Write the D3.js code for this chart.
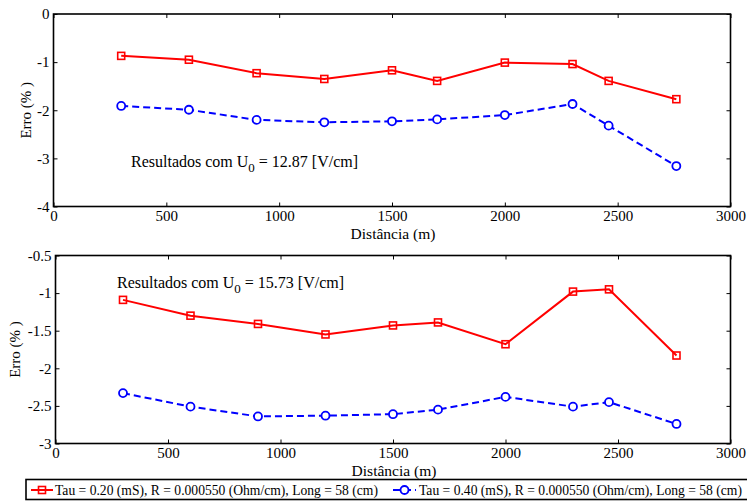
<!DOCTYPE html>
<html>
<head>
<meta charset="utf-8">
<script src="https://cdn.jsdelivr.net/npm/d3@7/dist/d3.min.js"></script>
<style>
  html, body { margin: 0; padding: 0; background: #fff; }
  svg text { font-family: "Liberation Serif", "Times New Roman", "DejaVu Serif", serif; }
</style>
</head>
<body>
<svg id="chart" width="747" height="502"></svg>
<script>
// Distances (m) at which the error was evaluated
const distances = [300, 600, 900, 1200, 1500, 1700, 2000, 2300, 2460, 2760];

// Panel 1: U0 = 12.87 V/cm
const errTau020_a = [-0.87, -0.95, -1.23, -1.35, -1.17, -1.39, -1.01, -1.04, -1.39, -1.77];
const errTau040_a = [-1.91, -1.99, -2.20, -2.25, -2.23, -2.19, -2.10, -1.87, -2.32, -3.16];

// Panel 2: U0 = 15.73 V/cm
const errTau020_b = [-1.09, -1.30, -1.41, -1.55, -1.43, -1.39, -1.68, -0.98, -0.95, -1.83];
const errTau040_b = [-2.33, -2.51, -2.64, -2.63, -2.61, -2.55, -2.38, -2.51, -2.45, -2.74];

const xTicks = [0, 500, 1000, 1500, 2000, 2500, 3000];
const yTicksA = [0, -1, -2, -3, -4];
const yTicksB = [-0.5, -1, -1.5, -2, -2.5, -3];

const seriesNames = [
  "Tau = 0.20 (mS), R = 0.000550 (Ohm/cm), Long = 58 (cm)",
  "Tau = 0.40 (mS), R = 0.000550 (Ohm/cm), Long = 58 (cm)"
];
const seriesColors = ["#ff0000", "#0000ff"];
const SERIF = "'Liberation Serif', 'Times New Roman', serif";

const svg = d3.select("#chart");

function drawPanel(cfg) {
  const x = d3.scaleLinear().domain([0, 3000]).range([cfg.left, cfg.right]);
  const y = d3.scaleLinear().domain(cfg.yDomain).range([cfg.bottom, cfg.top]);
  const g = svg.append("g");

  // frame ticks (inward, on all four sides)
  const tickLen = 4;
  g.append("g").attr("transform", `translate(0,${cfg.bottom})`)
    .call(d3.axisBottom(x).tickValues(xTicks).tickSize(-tickLen).tickPadding(4).tickFormat(d3.format("d")))
    .call(a => a.select(".domain").remove());
  g.append("g").attr("transform", `translate(0,${cfg.top})`)
    .call(d3.axisTop(x).tickValues(xTicks).tickSize(-tickLen).tickFormat(""))
    .call(a => a.select(".domain").remove());
  g.append("g").attr("transform", `translate(${cfg.left},0)`)
    .call(d3.axisLeft(y).tickValues(cfg.yTicks).tickSize(-tickLen).tickPadding(4).tickFormat(d => String(d)))
    .call(a => a.select(".domain").remove());
  g.append("g").attr("transform", `translate(${cfg.right},0)`)
    .call(d3.axisRight(y).tickValues(cfg.yTicks).tickSize(-tickLen).tickFormat(""))
    .call(a => a.select(".domain").remove());

  g.selectAll("g").attr("font-family", SERIF).attr("font-size", 15);
  g.selectAll(".tick line").attr("stroke", "#000").attr("stroke-width", 1);
  g.selectAll(".tick text").attr("fill", "#000");

  // box
  g.append("rect")
    .attr("x", cfg.left).attr("y", cfg.top)
    .attr("width", cfg.right - cfg.left).attr("height", cfg.bottom - cfg.top)
    .attr("fill", "none").attr("stroke", "#000").attr("stroke-width", 1.6);

  // axis titles
  g.append("text")
    .attr("x", (cfg.left + cfg.right) / 2 + 1).attr("y", cfg.bottom + 32)
    .attr("text-anchor", "middle").attr("font-size", 15.5)
    .text("Distância (m)");
  g.append("text")
    .attr("transform", `translate(${cfg.yLabelX},${(cfg.top + cfg.bottom) / 2}) rotate(-90)`)
    .attr("text-anchor", "middle").attr("font-size", 15)
    .text("Erro (% )");

  // annotation
  const ann = g.append("text")
    .attr("x", cfg.annX).attr("y", cfg.annY).attr("font-size", 16);
  ann.append("tspan").text("Resultados com U");
  ann.append("tspan").attr("dy", 5).attr("font-size", 13).text("0");
  ann.append("tspan").attr("dy", -5).text(" = " + cfg.u0 + " [V/cm]");

  const line = d3.line().x((d, i) => x(distances[i])).y(d => y(d));

  // red solid with squares
  g.append("path").datum(cfg.red)
    .attr("d", line).attr("fill", "none")
    .attr("stroke", seriesColors[0]).attr("stroke-width", 2);
  g.selectAll(".sq").data(cfg.red).enter().append("rect")
    .attr("x", (d, i) => x(distances[i]) - 3.5).attr("y", d => y(d) - 3.5)
    .attr("width", 7).attr("height", 7)
    .attr("fill", "none").attr("stroke", seriesColors[0]).attr("stroke-width", 1.6);

  // blue dashed with circles
  g.append("path").datum(cfg.blue)
    .attr("d", line).attr("fill", "none")
    .attr("stroke", seriesColors[1]).attr("stroke-width", 2)
    .attr("stroke-dasharray", "7,4");
  g.selectAll(".ci").data(cfg.blue).enter().append("circle")
    .attr("cx", (d, i) => x(distances[i])).attr("cy", d => y(d))
    .attr("r", 4)
    .attr("fill", "#fff").attr("stroke", seriesColors[1]).attr("stroke-width", 1.8);
}

drawPanel({
  left: 53.5, right: 730.5, top: 14, bottom: 206.5,
  yDomain: [-4, 0], yTicks: yTicksA,
  red: errTau020_a, blue: errTau040_a,
  u0: "12.87", annX: 131, annY: 167, yLabelX: 31
});

drawPanel({
  left: 55.5, right: 730.5, top: 255.5, bottom: 443.5,
  yDomain: [-3, -0.5], yTicks: yTicksB,
  red: errTau020_b, blue: errTau040_b,
  u0: "15.73", annX: 117, annY: 288, yLabelX: 20
});

// legend
const leg = svg.append("g");
leg.append("rect")
  .attr("x", 26).attr("y", 479.5).attr("width", 724).attr("height", 20)
  .attr("fill", "#fff").attr("stroke", "#000").attr("stroke-width", 1.6);

const legItems = [
  { x0: 31, x1: 53, tx: 55, marker: "square" },
  { x0: 393, x1: 416, tx: 419, marker: "circle" }
];
legItems.forEach((it, k) => {
  const cy = 490;
  leg.append("line").attr("x1", it.x0).attr("x2", it.x1).attr("y1", cy).attr("y2", cy)
    .attr("stroke", seriesColors[k]).attr("stroke-width", 2)
    .attr("stroke-dasharray", k === 1 ? "7,4" : null);
  const mx = (it.x0 + it.x1) / 2;
  if (it.marker === "square") {
    leg.append("rect").attr("x", mx - 3.5).attr("y", cy - 3.5).attr("width", 7).attr("height", 7)
      .attr("fill", "none").attr("stroke", seriesColors[k]).attr("stroke-width", 1.6);
  } else {
    leg.append("circle").attr("cx", mx).attr("cy", cy).attr("r", 4)
      .attr("fill", "#fff").attr("stroke", seriesColors[k]).attr("stroke-width", 1.8);
  }
  leg.append("text").attr("x", it.tx).attr("y", cy + 5).attr("font-size", 13.6)
    .text(seriesNames[k]);
});
</script>
</body>
</html>
